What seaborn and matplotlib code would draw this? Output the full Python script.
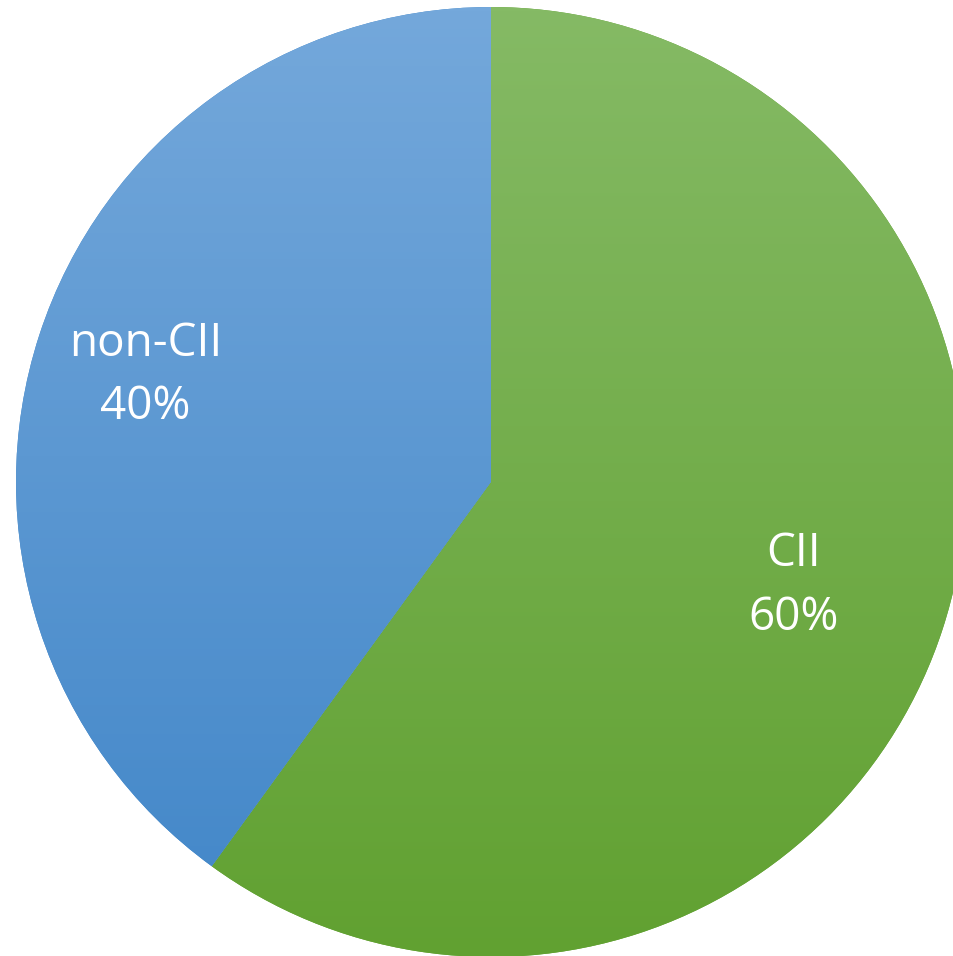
import numpy as np
import seaborn as sns
import matplotlib.pyplot as plt
from matplotlib.colors import LinearSegmentedColormap

sns.set_theme(style="white")
plt.rcParams['font.family'] = ['Open Sans', 'DejaVu Sans']

# data
labels = ["CII", "non-CII"]
shares = [60, 40]
# gradient colours per slice (top, bottom)
grad_top = ["#85ba65", "#74a8db"]
grad_bottom = ["#61a131", "#4186c8"]
label_dist = [0.67, 0.765]

fig = plt.figure(figsize=(9.54, 9.56), dpi=100)
ax = fig.add_axes([0, 0, 1, 1])

wedges, _ = ax.pie(shares, startangle=90, counterclock=False, radius=1,
                   colors=grad_bottom, wedgeprops=dict(linewidth=0))

# vertical gradient fill clipped to each wedge
grad = np.linspace(0, 1, 256).reshape(-1, 1)
for w, c0, c1 in zip(wedges, grad_top, grad_bottom):
    cmap = LinearSegmentedColormap.from_list("g", [c0, c1])
    im = ax.imshow(grad, cmap=cmap, extent=[-1, 1, -1, 1], aspect="auto",
                   origin="upper", zorder=w.get_zorder() + 0.1)
    im.set_clip_path(w)

for w, lab, pct, d in zip(wedges, labels, shares, label_dist):
    mid = np.deg2rad((w.theta1 + w.theta2) / 2)
    ax.text(d * np.cos(mid), d * np.sin(mid) - 0.012, f"{lab}\n{pct}%",
            ha="center", va="center", color="white", fontsize=33,
            linespacing=1.5, zorder=5)

# place the pie like the original (centre ~ (491, 482) px, radius ~475 px)
r = 475
ax.set_xlim(-491 / r, (954 - 491) / r)
ax.set_ylim(-(956 - 482) / r, 482 / r)
ax.set_aspect("equal")
ax.axis("off")

fig.savefig("out.png", dpi=100)
